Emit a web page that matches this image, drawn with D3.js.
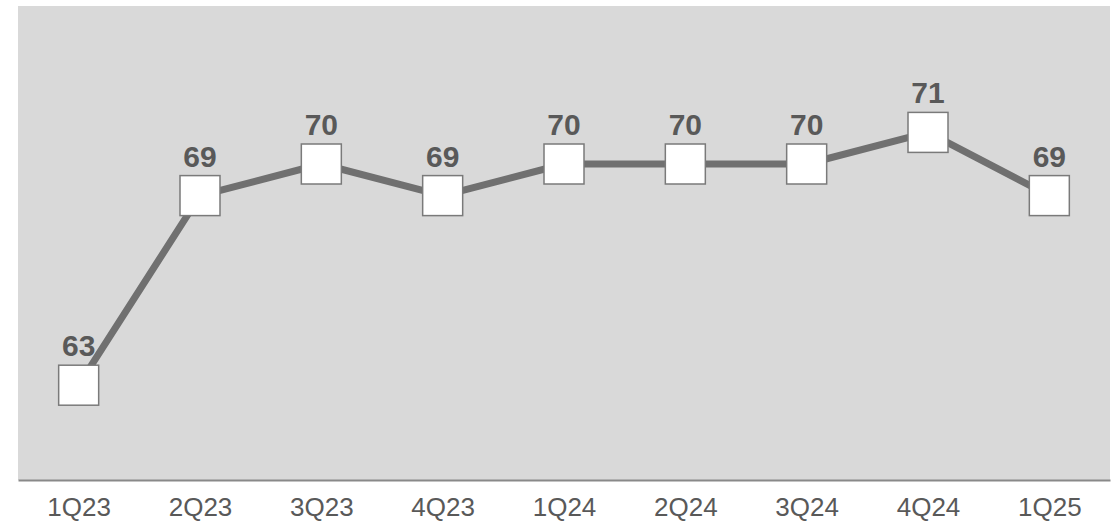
<!DOCTYPE html>
<html><head><meta charset="utf-8">
<script src="https://cdn.jsdelivr.net/npm/d3@7"></script>
<style>body{margin:0;background:#fff}svg{display:block}</style>
</head><body>
<script>
const categories = ["1Q23","2Q23","3Q23","4Q23","1Q24","2Q24","3Q24","4Q24","1Q25"];
const values = [63,69,70,69,70,70,70,71,69];
const yDomain = [60,75];

const W=1117,H=522;
const m={left:18,right:7,top:6,bottom:42};
const svg=d3.select("body").append("svg").attr("width",W).attr("height",H);
const x=d3.scalePoint().domain(categories).range([m.left,W-m.right]).padding(0.5);
const y=d3.scaleLinear().domain(yDomain).range([H-m.bottom,m.top]);

svg.append("rect").attr("x",m.left).attr("y",m.top)
  .attr("width",W-m.right-m.left).attr("height",H-m.bottom-m.top).attr("fill","#d9d9d9");

const ax=svg.append("g").attr("transform",`translate(0,${H-m.bottom})`)
  .call(d3.axisBottom(x).tickSize(0).tickPadding(18));
ax.select(".domain").attr("stroke","#898989").attr("stroke-width",2);
ax.selectAll("text").attr("font-family","Arial, 'Liberation Sans', sans-serif")
  .attr("font-size",26).attr("fill","#595959").attr("dy","0.7em");

const data=categories.map((c,i)=>({c,v:values[i]}));
svg.append("path").datum(data)
  .attr("d",d3.line().x(d=>x(d.c)).y(d=>y(d.v)))
  .attr("fill","none").attr("stroke","#707070").attr("stroke-width",7).attr("stroke-linejoin","round");

const s=40;
svg.selectAll("rect.mk").data(data).join("rect").attr("class","mk")
  .attr("x",d=>x(d.c)-s/2).attr("y",d=>y(d.v)-s/2).attr("width",s).attr("height",s)
  .attr("fill","#fff").attr("stroke","#7a7a7a").attr("stroke-width",1.5);

svg.selectAll("text.lbl").data(data).join("text").attr("class","lbl")
  .attr("x",d=>x(d.c)).attr("y",d=>y(d.v)-s/2-9)
  .attr("text-anchor","middle").attr("font-family","Arial, 'Liberation Sans', sans-serif")
  .attr("font-weight","bold").attr("font-size",30).attr("fill","#595959")
  .text(d=>d.v);
</script>
</body></html>
